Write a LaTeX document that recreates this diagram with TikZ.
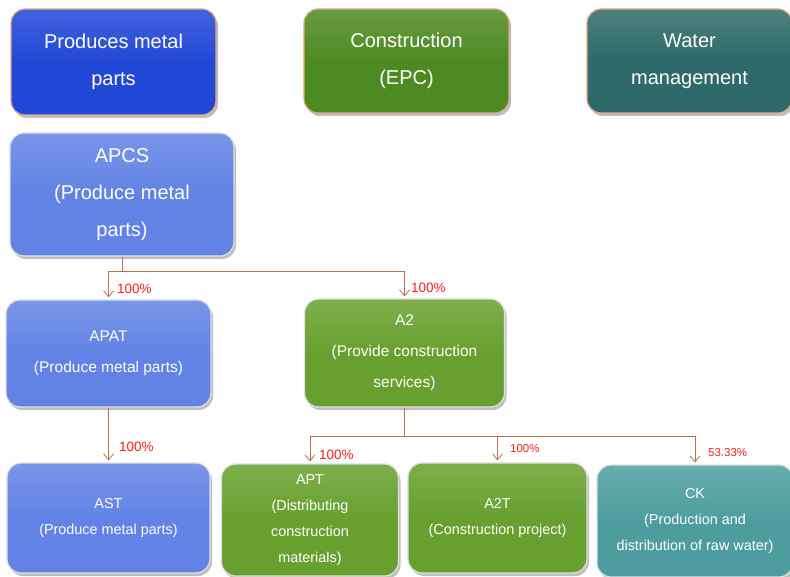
\documentclass[tikz,border=0pt]{standalone}
\usepackage{fontspec}
\setmainfont{Liberation Sans}
\usetikzlibrary{shadows,arrows.meta}
\definecolor{tblue}{HTML}{2147D6}
\definecolor{tgreen}{HTML}{4E8A22}
\definecolor{tteal}{HTML}{2E6A69}
\definecolor{mblue}{HTML}{6283E5}
\definecolor{mgreen}{HTML}{67A02E}
\definecolor{mteal}{HTML}{4D9DA0}
\definecolor{conn}{HTML}{B9714F}
\definecolor{pct}{HTML}{FF1E1E}
\definecolor{peach}{HTML}{E4A888}
\begin{document}
\begin{tikzpicture}[x=1pt,y=-1pt,
  box/.style={rounded corners=14pt, align=center, text=white, inner sep=0pt,
    line width=1.2pt,
    drop shadow={shadow xshift=2pt, shadow yshift=-3pt, fill=black, opacity=0.25}},
  topbox/.style={box, draw=peach, font=\fontsize{20}{37}\selectfont},
  midbox/.style={box, draw=white!88!black, font=\fontsize{15.5}{31}\selectfont},
  lowbox/.style={box, draw=white!88!black, font=\fontsize{14.4}{26}\selectfont},
  fillc/.style={top color=#1!85!white, bottom color=#1, middle color=#1},
  link/.style={draw=conn, line width=0.8pt},
  arr/.style={link, -{Straight Barb[length=6pt,width=10pt]}, shorten >=2pt},
  pctlab/.style={text=pct, anchor=west, inner sep=0pt, font=\fontsize{13.5}{14}\selectfont},
  pctsm/.style={text=pct, anchor=west, inner sep=0pt, font=\fontsize{11.5}{12}\selectfont}
]
\useasboundingbox (0,0) rectangle (790,577);
\fill[white] (0,0) rectangle (790,577);

% top row
\node[topbox, fillc=tblue, minimum width=205pt, minimum height=106pt] (t1) at (113.5,62) {Produces metal\\parts};
\node[topbox, fillc=tgreen, minimum width=205pt, minimum height=104pt] (t2) at (406.5,61) {Construction\\(EPC)};
\node[topbox, fillc=tteal, minimum width=205pt, minimum height=104pt] (t3) at (689.5,61) {Water\\management};

% APCS
\node[topbox, draw=white!88!black, fillc=mblue, minimum width=224pt, minimum height=123pt] (apcs) at (122,194.5) {APCS\\(Produce metal\\parts)};

% middle row
\node[midbox, fillc=mblue, minimum width=205pt, minimum height=107pt] (apat) at (108.5,353.5) {APAT\\(Produce\ metal\ parts)};
\node[midbox, fillc=mgreen, minimum width=200pt, minimum height=108pt] (a2) at (404.5,353) {A2\\(Provide\ construction\\services)};

% bottom row
\node[lowbox, fillc=mblue, minimum width=203pt, minimum height=110pt] (ast) at (108.5,518) {AST\\(Produce metal parts)};
\node[lowbox, fillc=mgreen, minimum width=177pt, minimum height=112pt] (apt) at (310,520) {APT\\(Distributing\\construction\\materials)};
\node[lowbox, fillc=mgreen, minimum width=179pt, minimum height=110pt] (a2t) at (497.5,518) {A2T\\(Construction project)};
\node[lowbox, fillc=mteal, minimum width=196pt, minimum height=112pt] (ck) at (695,521) {CK\\(Production and\\distribution of raw water)};

% connectors
\coordinate (j1) at (122,271);
\draw[link] (apcs.south) -- (j1);
\draw[arr] (j1) -| (apat.north);
\draw[arr] (j1) -| (a2.north);
\draw[arr] (apat.south) -- (ast.north);

\coordinate (j2) at (404.5,436);
\draw[link] (a2.south) -- (j2);
\draw[arr] (j2) -| (apt.north);
\draw[arr] (j2) -| (a2t.north);
\draw[arr] (j2) -| (ck.north);

% labels
\node[pctlab] (l1) at (117,289) {100\%};
\node[pctlab] (l2) at (411,288) {100\%};
\node[pctlab] (l3) at (119,447) {100\%};
\node[pctlab] (l4) at (319,455) {100\%};
\node[pctsm] (l5) at (510,449) {100\%};
\node[pctsm] (l6) at (708,453) {53.33\%};
\end{tikzpicture}
\end{document}
